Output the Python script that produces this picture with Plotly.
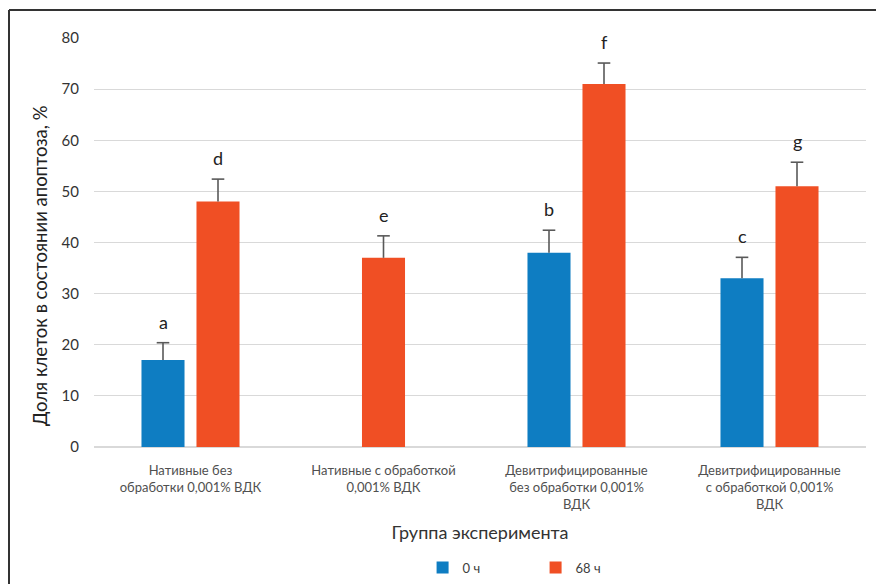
import plotly.graph_objects as go

categories = [
    "Нативные без<br>обработки 0,001% ВДК",
    "Нативные с обработкой<br>0,001% ВДК",
    "Девитрифицированные<br>без обработки 0,001%<br>ВДК",
    "Девитрифицированные<br>с обработкой 0,001%<br>ВДК",
]
series_names = ["0 ч", "68 ч"]
values_0h = [17.0, None, 38.0, 33.0]
err_0h = [3.4, None, 4.4, 4.1]
letters_0h = ["a", "", "b", "c"]
values_68h = [48.0, 37.0, 71.0, 51.0]
err_68h = [4.4, 4.3, 4.1, 4.7]
letters_68h = ["d", "e", "f", "g"]
y_ticks = [0, 10, 20, 30, 40, 50, 60, 70, 80]
x_title = "Группа эксперимента"
y_title = "Доля клеток в состоянии апоптоза, %"

BLUE = "#0E7DC2"
ORANGE = "#F04F24"
ERR = "#595959"
FONT = "Lato, 'Open Sans', sans-serif"
BW = 0.223          # bar width (category units)
GAP = 0.062         # gap between paired bars
SHIFT = BW / 2 + GAP / 2

# derive bar centre positions from category index
idx = list(range(len(categories)))
x0, y0, e0, l0 = [], [], [], []
x1, y1, e1, l1 = [], [], [], []
for i in idx:
    if values_0h[i] is not None:
        x0.append(i - SHIFT); y0.append(values_0h[i]); e0.append(err_0h[i]); l0.append(letters_0h[i])
        x1.append(i + SHIFT)
    else:
        x1.append(i)
    y1.append(values_68h[i]); e1.append(err_68h[i]); l1.append(letters_68h[i])

fig = go.Figure()
fig.add_trace(go.Bar(name=series_names[0], x=x0, y=y0, width=BW, marker_color=BLUE,
                     marker_line_width=0))
fig.add_trace(go.Bar(name=series_names[1], x=x1, y=y1, width=BW, marker_color=ORANGE,
                     marker_line_width=0))

# error bars: vertical stem (no caps) + top cap marker
for xs, ys, es in ((x0, y0, e0), (x1, y1, e1)):
    tops = [v + e for v, e in zip(ys, es)]
    fig.add_trace(go.Scatter(
        x=xs, y=tops, mode="markers", showlegend=False, hoverinfo="skip",
        marker=dict(symbol="line-ew", size=9, line=dict(color=ERR, width=1.6), color=ERR),
        error_y=dict(type="data", symmetric=False, array=[0] * len(es), arrayminus=es,
                     color=ERR, thickness=1.6, width=0),
    ))

L, R, T, B = 94, 10, 38, 137
W, H = 876, 584
px_x = lambda p: (p - L) / (W - L - R)
px_y = lambda p: (H - B - p) / (H - T - B)

# significance letters
annotations = []
for xs, ys, es, ls in ((x0, y0, e0, l0), (x1, y1, e1, l1)):
    for x, v, e, t in zip(xs, ys, es, ls):
        annotations.append(dict(x=x, y=v + e, text=t, xref="x", yref="y", showarrow=False,
                                yanchor="middle", yshift=21,
                                font=dict(size=18, color="#222222", family=FONT)))
annotations.append(dict(text=y_title, xref="paper", yref="paper", x=px_x(40), y=px_y(266),
                        textangle=-90, showarrow=False, xanchor="center", yanchor="middle",
                        font=dict(size=18.5, color="#222222", family=FONT)))

shapes = [
    dict(type="line", xref="paper", yref="paper", x0=px_x(9), x1=px_x(9), y0=px_y(10), y1=px_y(600),
         line=dict(color="#333333", width=2)),
    dict(type="line", xref="paper", yref="paper", x0=px_x(9), x1=px_x(900), y0=px_y(10), y1=px_y(10),
         line=dict(color="#333333", width=2)),
]

fig.update_layout(
    width=W, height=H,
    margin=dict(l=L, r=R, t=T, b=B, pad=0, autoexpand=False),
    paper_bgcolor="white", plot_bgcolor="white",
    barmode="overlay",
    font=dict(family=FONT, color="#404040"),
    shapes=shapes,
    annotations=annotations,
    legend=dict(orientation="h", x=0.572, xanchor="center", y=-0.258, yanchor="top",
                font=dict(size=13, color="#404040"), itemwidth=30, traceorder="normal",
                entrywidth=68, entrywidthmode="pixels"),
    showlegend=True,
)
fig.update_xaxes(
    range=[-0.5, len(categories) - 0.5], tickvals=idx, ticktext=categories,
    tickfont=dict(size=13, color="#505050"), ticks="", showline=False, showgrid=False,
    zeroline=False, automargin=False, ticklabelstandoff=14,
    title=dict(text=x_title, font=dict(size=18, color="#333333"), standoff=15),
)
fig.update_yaxes(
    range=[0, 80], tickvals=y_ticks, showgrid=True, gridcolor="#D9D9D9", gridwidth=1,
    zeroline=True, zerolinecolor="#D9D9D9", zerolinewidth=1.5, automargin=False,
    tickfont=dict(size=15, color="#333333"), ticks="", ticklabelstandoff=14,
)

fig.write_html("out.html", config={"displayModeBar": False},
               post_script="document.body.style.margin='0';document.body.style.overflow='hidden';")
